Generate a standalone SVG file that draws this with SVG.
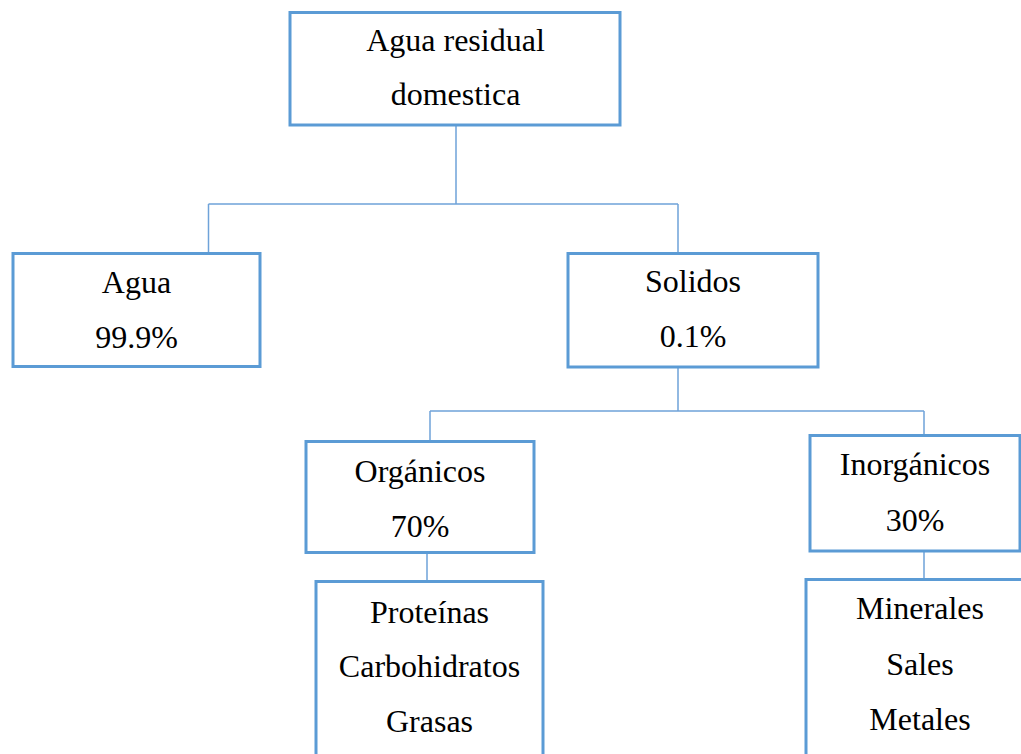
<svg xmlns="http://www.w3.org/2000/svg" width="1021" height="754" viewBox="0 0 1021 754">
<style>
.box{fill:#fff;stroke:#5b9bd5;stroke-width:3}
.lbl{font-family:"Liberation Serif","Times New Roman",serif;font-size:32px;fill:#000;text-anchor:middle}
.con{fill:none;stroke:#6fa3d9;stroke-width:1.5}
</style>
<rect width="1021" height="754" fill="#fff"/>
<g id="connectors">
<path class="con" d="M456 126V204M208.5 204H678M208.5 204V253M678 204V253"/>
<path class="con" d="M678 368V411M430 411H924M430 411V441M924 411V435"/>
<path class="con" d="M427 553V581M924 551V579"/>
</g>
<g id="n-top">
<rect class="box" x="290" y="12.5" width="330" height="112.5"/>
<text class="lbl" x="455.5" y="51">Agua residual</text>
<text class="lbl" x="455.5" y="105">domestica</text>
</g>
<g id="n-agua">
<rect class="box" x="13" y="253.5" width="247" height="113"/>
<text class="lbl" x="136.5" y="293">Agua</text>
<text class="lbl" x="136.5" y="348">99.9%</text>
</g>
<g id="n-solidos">
<rect class="box" x="568" y="253.5" width="250" height="113.5"/>
<text class="lbl" x="693" y="292">Solidos</text>
<text class="lbl" x="693" y="347">0.1%</text>
</g>
<g id="n-organicos">
<rect class="box" x="306" y="441.5" width="228" height="111"/>
<text class="lbl" x="420" y="482">Orgánicos</text>
<text class="lbl" x="420" y="537">70%</text>
</g>
<g id="n-inorganicos">
<rect class="box" x="810" y="435.5" width="210" height="115.5"/>
<text class="lbl" x="915" y="475">Inorgánicos</text>
<text class="lbl" x="915" y="531">30%</text>
</g>
<g id="n-proteinas">
<rect class="box" x="316" y="581.5" width="227" height="190"/>
<text class="lbl" x="429.5" y="623">Proteínas</text>
<text class="lbl" x="429.5" y="677">Carbohidratos</text>
<text class="lbl" x="429.5" y="732">Grasas</text>
</g>
<g id="n-minerales">
<rect class="box" x="806" y="579.5" width="230" height="190"/>
<text class="lbl" x="920" y="619">Minerales</text>
<text class="lbl" x="920" y="675">Sales</text>
<text class="lbl" x="920" y="730">Metales</text>
</g>
</svg>
